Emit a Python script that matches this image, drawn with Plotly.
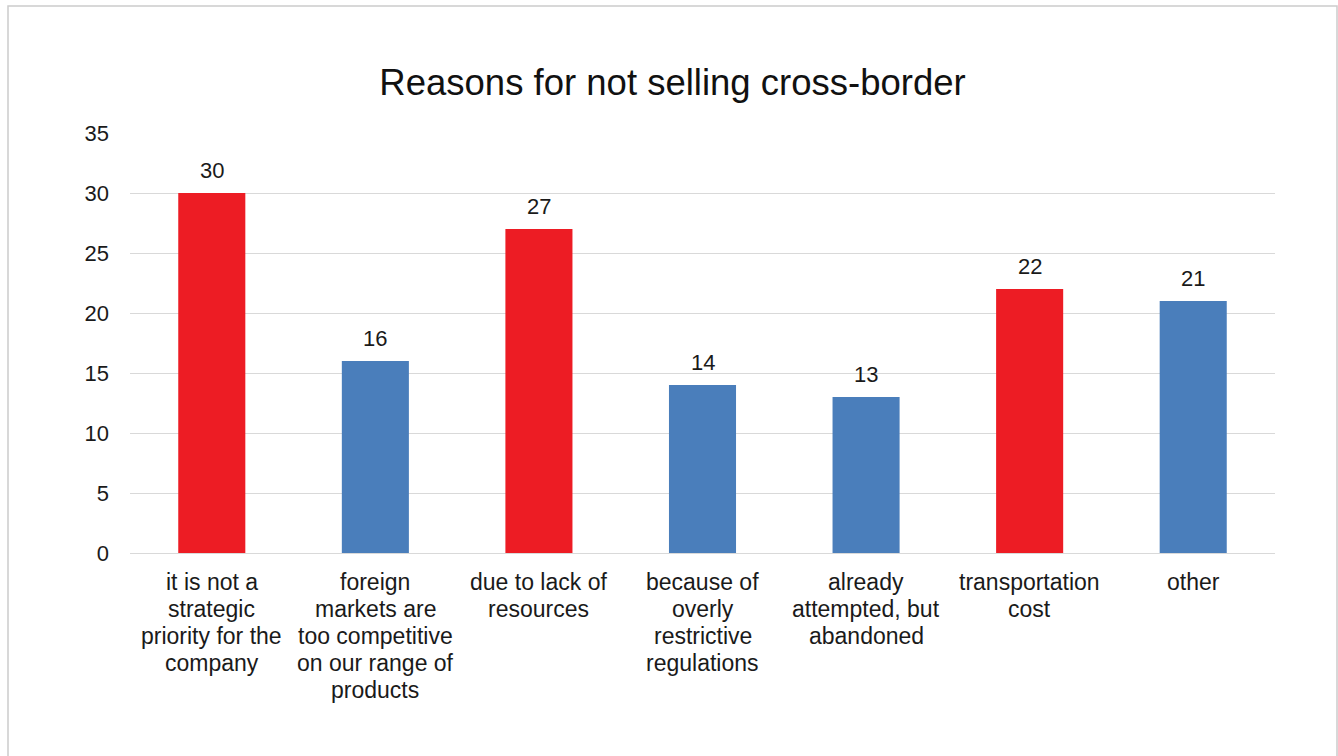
import plotly.graph_objects as go

# Survey responses: reasons given for not selling cross-border
categories = [
    "it is not a<br>strategic<br>priority for the<br>company",
    "foreign<br>markets are<br>too competitive<br>on our range of<br>products",
    "due to lack of<br>resources",
    "because of<br>overly<br>restrictive<br>regulations",
    "already<br>attempted, but<br>abandoned",
    "transportation<br>cost",
    "other",
]
values = [30, 16, 27, 14, 13, 22, 21]
highlighted = [True, False, True, False, False, True, False]

y_ticks = [0, 5, 10, 15, 20, 25, 30, 35]

RED = "#ED1C24"
BLUE = "#4A7EBB"
TEXT = "#1A1A1A"
FONT = "Liberation Sans, Arial, sans-serif"

W, H = 1338, 756
L, R, T, B = 130, 63, 133, 203

bar_colors = [RED if h else BLUE for h in highlighted]

fig = go.Figure(
    go.Bar(
        x=categories,
        y=values,
        marker=dict(color=bar_colors, line=dict(width=0)),
        width=0.41,
        hoverinfo="skip",
    )
)

# value labels above each bar
for cat, v in zip(categories, values):
    fig.add_annotation(
        x=cat, y=v, xref="x", yref="y",
        text=str(v), showarrow=False,
        yanchor="middle", yshift=23,
        font=dict(family=FONT, size=22, color=TEXT),
    )

# category labels, one annotation per line for tighter line spacing
LINE_GAP = 27
for cat in categories:
    for j, line in enumerate(cat.split("<br>")):
        fig.add_annotation(
            x=cat, y=0, xref="x", yref="paper",
            text=line, showarrow=False,
            xanchor="center", yanchor="middle",
            yshift=-(29 + j * LINE_GAP),
            font=dict(family=FONT, size=23, color=TEXT),
        )

# light frame around the whole chart
pw, ph = W - L - R, H - T - B
fig.add_shape(
    type="rect", xref="paper", yref="paper",
    x0=(8 - L) / pw, x1=(1337 - L) / pw,
    y0=(H - B - 760) / ph, y1=(H - B - 6) / ph,
    line=dict(color="#CCCCCC", width=1.5),
    fillcolor="rgba(0,0,0,0)", layer="below",
)

fig.update_layout(
    width=W, height=H,
    margin=dict(l=L, r=R, t=T, b=B, pad=0),
    paper_bgcolor="white",
    plot_bgcolor="white",
    showlegend=False,
    bargap=0.59,
    font=dict(family=FONT, size=22, color=TEXT),
    title=dict(
        text="Reasons for not selling cross-border",
        x=672.5 / W, xanchor="center",
        y=1 - 82 / H, yanchor="middle",
        font=dict(family=FONT, size=36.5, color="#111111"),
    ),
    xaxis=dict(
        type="category",
        showgrid=False,
        showline=False,
        zeroline=False,
        ticks="",
        showticklabels=False,
        fixedrange=True,
    ),
    yaxis=dict(
        range=[0, 35],
        tickvals=y_ticks,
        showgrid=True,
        gridcolor="#D9D9D9",
        gridwidth=1.3,
        zeroline=True,
        zerolinecolor="#D9D9D9",
        zerolinewidth=1.3,
        showline=False,
        ticks="",
        ticklabelstandoff=20,
        tickfont=dict(family=FONT, size=22, color=TEXT),
        fixedrange=True,
    ),
)

fig.write_html("out.html", config={"displayModeBar": False})
